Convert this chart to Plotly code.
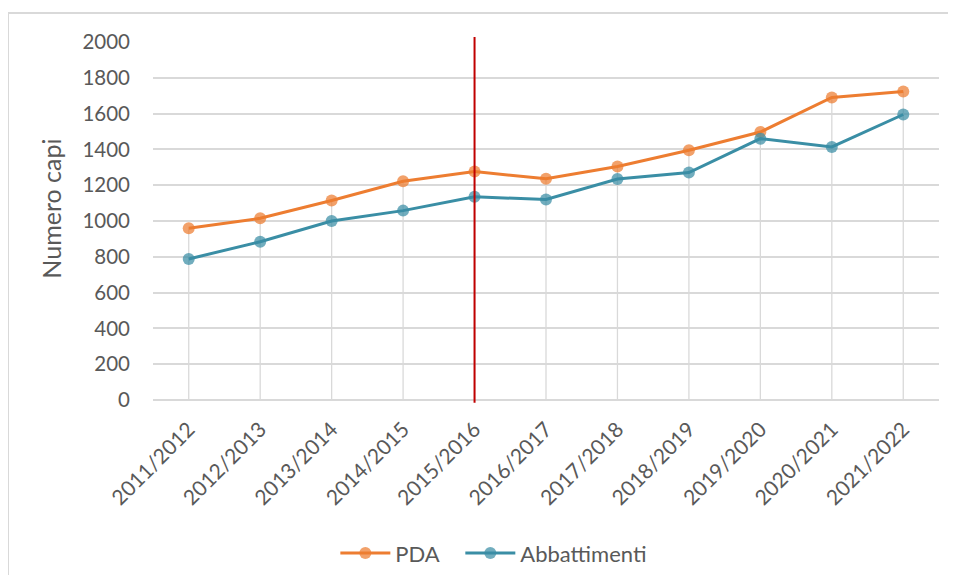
import plotly.graph_objects as go

categories = ["2011/2012", "2012/2013", "2013/2014", "2014/2015", "2015/2016",
              "2016/2017", "2017/2018", "2018/2019", "2019/2020", "2020/2021", "2021/2022"]
pda = [960, 1015, 1115, 1222, 1276, 1236, 1304, 1395, 1497, 1690, 1724]
abbattimenti = [788, 884, 1000, 1058, 1135, 1120, 1235, 1271, 1460, 1414, 1595]
marker_category = "2015/2016"

ORANGE = "#ED7D31"
TEAL = "#3A8EA5"
GRID = "#D9D9D9"
TEXT = "#595959"
FONT = "Lato"

fig = go.Figure()

# drop lines from highest point to axis
dx, dy = [], []
for c, a, b in zip(categories, pda, abbattimenti):
    dx += [c, c, None]
    dy += [0, max(a, b), None]
fig.add_trace(go.Scatter(x=dx, y=dy, mode="lines", line=dict(color=GRID, width=1.3),
                         showlegend=False, hoverinfo="skip"))

fig.add_trace(go.Scatter(x=categories, y=pda, name="PDA", mode="lines+markers",
                         line=dict(color=ORANGE, width=3), legend="legend",
                         marker=dict(size=12, color="rgba(237,125,49,0.72)", line=dict(width=0))))
fig.add_trace(go.Scatter(x=categories, y=abbattimenti, name="Abbattimenti", mode="lines+markers",
                         line=dict(color=TEAL, width=3), legend="legend2",
                         marker=dict(size=12, color="rgba(58,142,165,0.72)", line=dict(width=0))))

fig.add_shape(type="line", xref="x", yref="paper", x0=marker_category, x1=marker_category,
              y0=-0.008, y1=1.014, line=dict(color="#C00000", width=2), layer="above")

# outer chart border
fig.add_shape(type="rect", xref="paper", yref="paper", x0=-0.1845, x1=1.03, y0=-0.55, y1=1.081,
              line=dict(color=GRID, width=2), fillcolor="rgba(0,0,0,0)", layer="below")

fig.add_annotation(text="Numero capi", xref="paper", yref="paper", x=-0.130, y=0.534,
                   xanchor="center", yanchor="middle",
                   textangle=-90, showarrow=False, font=dict(family=FONT, size=25, color=TEXT))

legend_style = dict(orientation="h", yanchor="middle", xanchor="left", y=-0.428,
                    font=dict(family=FONT, size=22, color=TEXT), itemwidth=50,
                    bgcolor="rgba(0,0,0,0)")

fig.update_layout(
    width=940, height=567,
    margin=dict(l=145, r=9, t=34, b=175, autoexpand=False),
    paper_bgcolor="white", plot_bgcolor="white",
    font=dict(family=FONT, size=20, color=TEXT),
    showlegend=True,
    legend=dict(x=0.232, **legend_style),
    legend2=dict(x=0.391, **legend_style),
    xaxis=dict(type="category", range=[-0.5, 10.5], showgrid=False, tickangle=-45,
               ticks="", showline=False, zeroline=False, ticklabelstandoff=12,
               tickfont=dict(family=FONT, size=21, color=TEXT)),
    yaxis=dict(range=[0, 2000], dtick=200, showgrid=True, gridcolor=GRID, gridwidth=1.8,
               zeroline=True, zerolinecolor=GRID, zerolinewidth=1.8, showline=False,
               ticks="", ticklabelstandoff=22, tickfont=dict(family=FONT, size=20.5, color=TEXT)),
)

fig.write_html("out.html")
